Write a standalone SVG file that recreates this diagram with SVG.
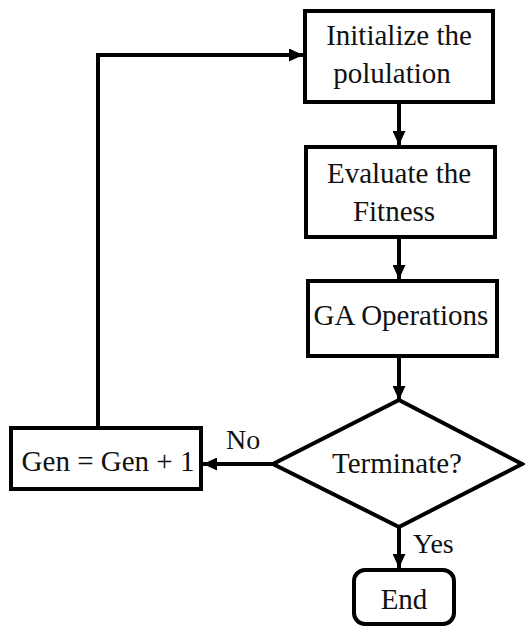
<svg xmlns="http://www.w3.org/2000/svg" width="525" height="627" viewBox="0 0 525 627">
<style>
.box{fill:#fff;stroke:#000;stroke-width:4}
.t{font-family:'Liberation Serif','Times New Roman',serif;font-size:29px;fill:#111;text-anchor:middle}
.l{font-family:'Liberation Serif','Times New Roman',serif;font-size:28px;fill:#111}
.c{fill:none;stroke:#000;stroke-width:4}
</style>
<defs>
<marker id="ah" viewBox="0 0 14 13" refX="14" refY="6.5" markerWidth="14" markerHeight="13" markerUnits="userSpaceOnUse" orient="auto">
<path d="M0,0 L14,6.5 L0,13 Z" fill="#000"/>
</marker>
</defs>
<rect width="525" height="627" fill="#fff"/>
<g id="connectors">
<path class="c" d="M98,426 V55 H303" marker-end="url(#ah)"/>
<path class="c" d="M399,104 V145" marker-end="url(#ah)"/>
<path class="c" d="M399,239 V279" marker-end="url(#ah)"/>
<path class="c" d="M399,358 V400" marker-end="url(#ah)"/>
<path class="c" d="M272,464 H203" marker-end="url(#ah)"/>
<path class="c" d="M399,527 V568" marker-end="url(#ah)"/>
<text class="l" x="226" y="449">No</text>
<text class="l" x="413" y="553">Yes</text>
</g>
<g id="init">
<rect class="box" x="305" y="11" width="188" height="91"/>
<text class="t" x="399" y="45">Initialize the</text>
<text class="t" x="392" y="83">polulation</text>
</g>
<g id="eval">
<rect class="box" x="306" y="147" width="189" height="90"/>
<text class="t" x="399" y="183">Evaluate the</text>
<text class="t" x="394" y="221">Fitness</text>
</g>
<g id="ga">
<rect class="box" x="308" y="281" width="189" height="75"/>
<text class="t" x="401" y="325">GA Operations</text>
</g>
<g id="terminate">
<polygon class="box" points="399,400 522,464 399,527 273,464"/>
<text class="t" x="397" y="473">Terminate?</text>
</g>
<g id="gen">
<rect class="box" x="11" y="428" width="190" height="61"/>
<text class="t" x="108" y="471">Gen = Gen + 1</text>
</g>
<g id="end">
<rect class="box" x="354" y="570" width="100" height="54" rx="11"/>
<text class="t" x="404" y="609">End</text>
</g>
</svg>
